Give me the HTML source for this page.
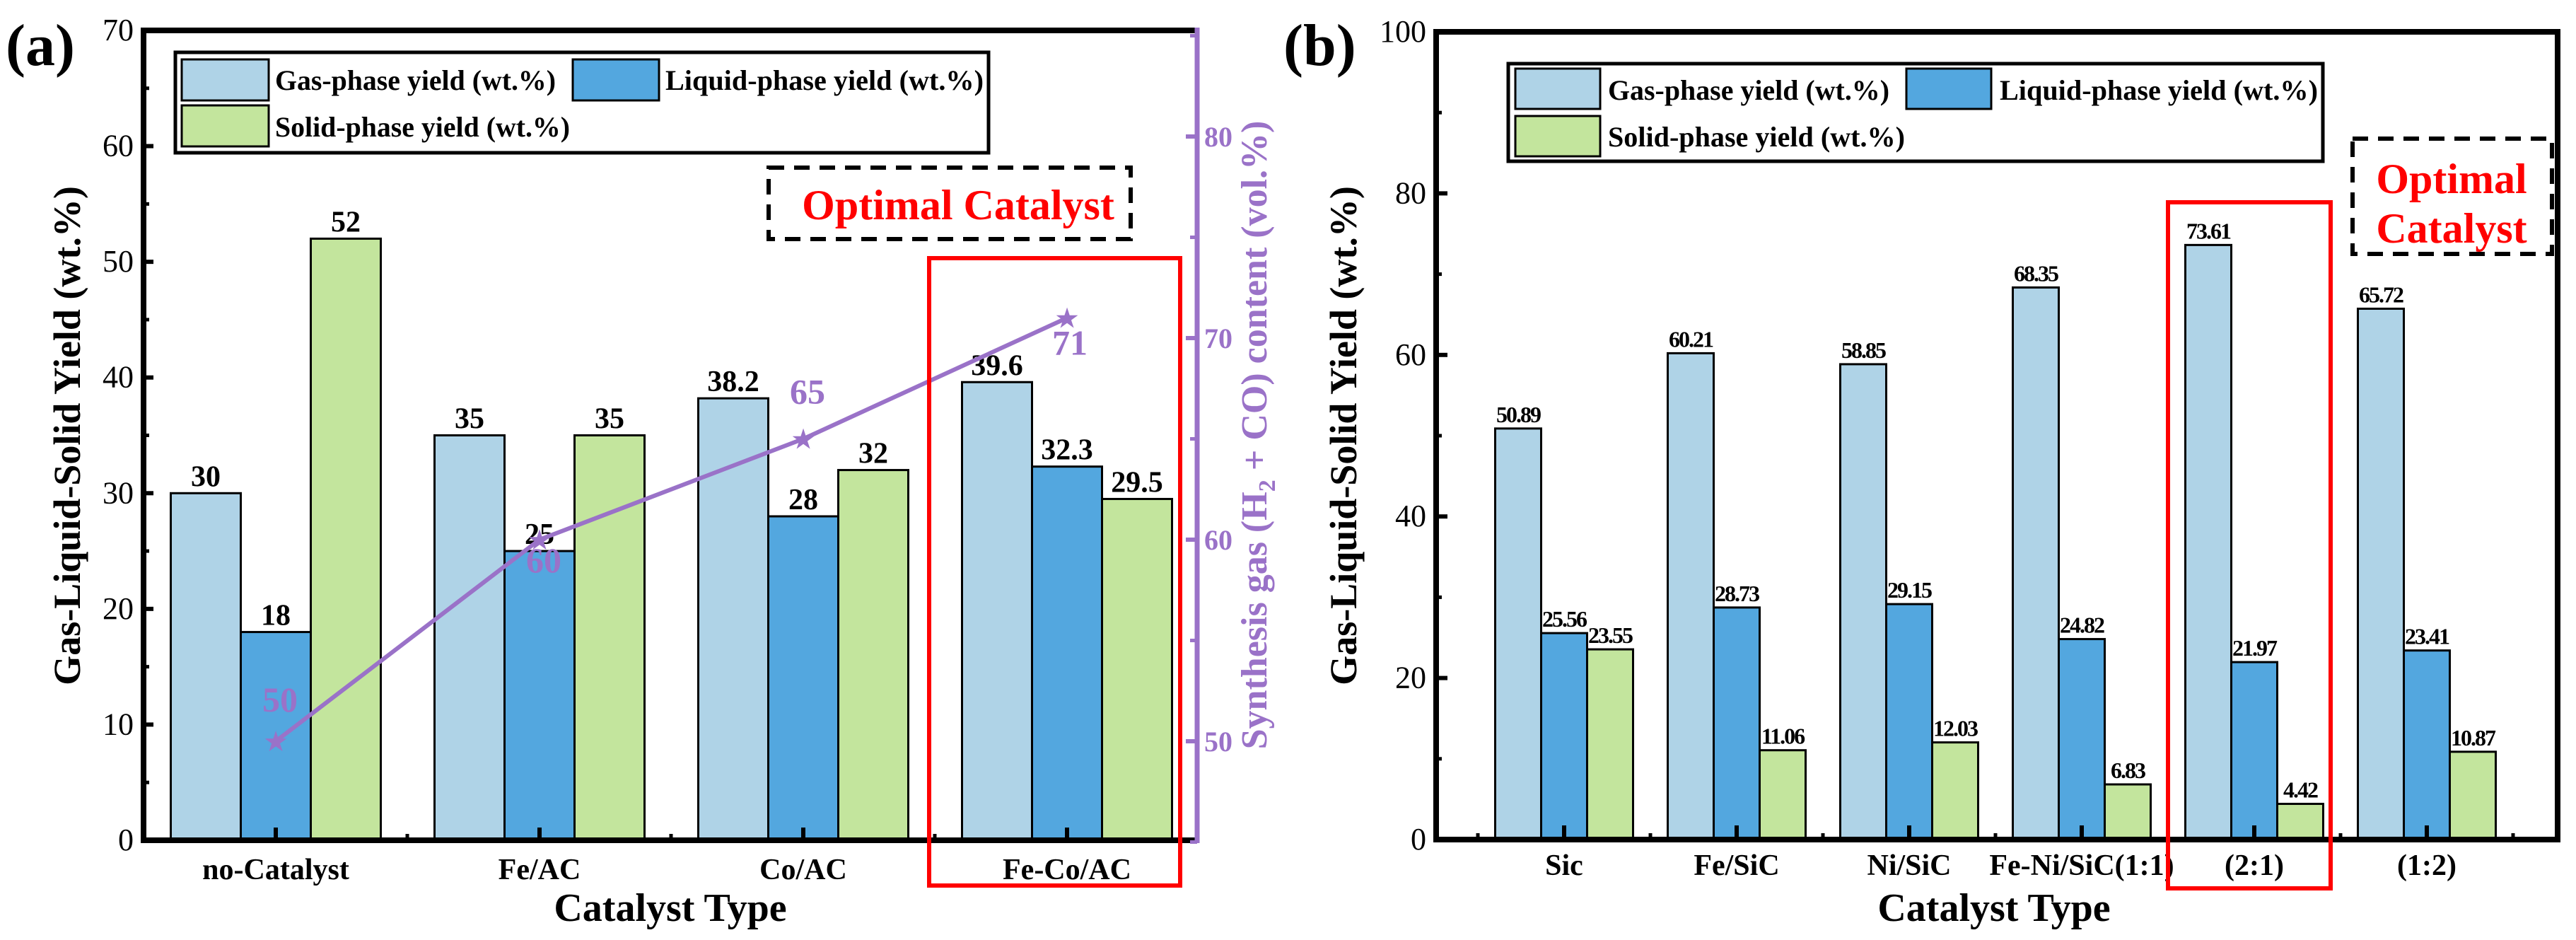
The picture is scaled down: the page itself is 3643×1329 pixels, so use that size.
<!DOCTYPE html>
<html><head><meta charset="utf-8"><style>
html,body{margin:0;padding:0;background:#fff;}
svg{display:block;}
svg text{font-family:"Liberation Serif","DejaVu Serif",serif;}
</style></head><body>
<svg id="chart" xmlns="http://www.w3.org/2000/svg" width="3643" height="1329" viewBox="0 0 3643 1329" font-family="Liberation Serif, DejaVu Serif, serif">
<rect width="3643" height="1329" fill="#fff"/>
<g id="pa"></g>
<g id="pb"></g>
</svg>
<script>
// Panel (a) data
const catsA = ["no-Catalyst","Fe/AC","Co/AC","Fe-Co/AC"];
const gasA = [30,35,38.2,39.6];
const liqA = [18,25,28,32.3];
const solA = [52,35,32,29.5];
const gasLabelsA = ["30","35","38.2","39.6"];
const liqLabelsA = ["18","25","28","32.3"];
const solLabelsA = ["52","35","32","29.5"];
const synA = [50,60,65,71];
const yTicksA = [0,10,20,30,40,50,60,70];
const y2TicksA = [50,60,70,80];
// Panel (b) data
const catsB = ["Sic","Fe/SiC","Ni/SiC","Fe-Ni/SiC(1:1)","(2:1)","(1:2)"];
const gasB = [50.89,60.21,58.85,68.35,73.61,65.72];
const liqB = [25.56,28.73,29.15,24.82,21.97,23.41];
const solB = [23.55,11.06,12.03,6.83,4.42,10.87];
const yTicksB = [0,20,40,60,80,100];

const NS="http://www.w3.org/2000/svg";
const FF='"Liberation Serif","DejaVu Serif",serif';
const C_GAS="#afd3e7", C_LIQ="#53a7df", C_SOL="#c3e59d", PUR="#9a72c8";
function mk(parent,tag,attrs,text){const e=document.createElementNS(NS,tag);for(const k in attrs)e.setAttribute(k,attrs[k]);if(tag==='text'){e.style.fontFamily=FF;}if(text!==undefined)e.textContent=text;parent.appendChild(e);return e;}

// ---------- Panel A ----------
(function(){
const g=document.getElementById('pa');
const L=203,R=1693,T=43,B=1188;
const ya=v=>B-(v/70)*(B-T);
const y2=v=>1048-(v-50)*28.5;
const cx=i=>390+i*373;
const bw=99;
const series=[[gasA,C_GAS,gasLabelsA,-1],[liqA,C_LIQ,liqLabelsA,0],[solA,C_SOL,solLabelsA,1]];
series.forEach((s,si)=>{
 s[0].forEach((v,i)=>{
  const x=cx(i)+s[3]*bw-bw/2;
  const r=mk(g,'rect',{x:x,y:ya(v),width:bw,height:B-ya(v),fill:s[1],stroke:'#000','stroke-width':3});
  
  
  const t=mk(g,'text',{x:x+bw/2,y:ya(v)-10,'font-size':42,'font-weight':'bold','text-anchor':'middle'},s[2][i]);
  
  
 });
});
mk(g,'line',{x1:L,y1:T,x2:R,y2:T,stroke:'#000','stroke-width':8});
mk(g,'line',{x1:L,y1:T-4,x2:L,y2:B+4,stroke:'#000','stroke-width':8});
mk(g,'line',{x1:L-4,y1:B,x2:R,y2:B,stroke:'#000','stroke-width':8});
mk(g,'line',{x1:R,y1:T-4,x2:R,y2:B+4,stroke:PUR,'stroke-width':7});
yTicksA.forEach(v=>{
 mk(g,'line',{x1:L,y1:ya(v),x2:L+14,y2:ya(v),stroke:'#000','stroke-width':6});
 if(v<70)mk(g,'line',{x1:L,y1:ya(v+5),x2:L+8,y2:ya(v+5),stroke:'#000','stroke-width':5});
 const t=mk(g,'text',{x:L-14,y:ya(v)+14,'font-size':44,'text-anchor':'end'},String(v));
 
 
});
y2TicksA.forEach(v=>{
 mk(g,'line',{x1:R,y1:y2(v),x2:R-16,y2:y2(v),stroke:PUR,'stroke-width':6});
 mk(g,'line',{x1:R,y1:y2(v+5),x2:R-10,y2:y2(v+5),stroke:PUR,'stroke-width':5});
 const t=mk(g,'text',{x:R+10,y:y2(v)+14,'font-size':40,fill:PUR,'font-weight':'bold'},String(v));
 
 
});
mk(g,'line',{x1:R,y1:y2(45),x2:R-10,y2:y2(45),stroke:PUR,'stroke-width':5});
catsA.forEach((c,i)=>{
 mk(g,'line',{x1:cx(i),y1:B,x2:cx(i),y2:B-18,stroke:'#000','stroke-width':6});
 if(i<3)mk(g,'line',{x1:cx(i)+186,y1:B,x2:cx(i)+186,y2:B-9,stroke:'#000','stroke-width':5});
 const t=mk(g,'text',{x:cx(i),y:1243,'font-size':42,'font-weight':'bold','text-anchor':'middle'},c);
 
 
});
const pts=synA.map((v,i)=>cx(i)+','+y2(v)).join(' ');
const pl=mk(g,'polyline',{points:pts,fill:'none',stroke:PUR,'stroke-width':6});


const offs=[[6,-42],[6,46],[6,-50],[4,52]];
synA.forEach((v,i)=>{
 const s=mk(g,'text',{x:cx(i),y:y2(v)+14,'font-size':40,fill:PUR,'text-anchor':'middle'},'★');
 s.style.fontFamily='"DejaVu Sans",sans-serif';
 
 
 const t=mk(g,'text',{x:cx(i)+offs[i][0],y:y2(v)+offs[i][1],'font-size':50,'font-weight':'bold',fill:PUR,'text-anchor':'middle'},String(v));
 
 
});
const lg=mk(g,'g',{});


mk(lg,'rect',{x:248,y:74,width:1150,height:142,fill:'#fff',stroke:'#000','stroke-width':5});
mk(lg,'rect',{x:257,y:84,width:123,height:58,fill:C_GAS,stroke:'#000','stroke-width':3});
mk(lg,'rect',{x:257,y:149,width:123,height:58,fill:C_SOL,stroke:'#000','stroke-width':3});
mk(lg,'rect',{x:810,y:84,width:122,height:58,fill:C_LIQ,stroke:'#000','stroke-width':3});
mk(lg,'text',{x:389,y:127,'font-size':40,'font-weight':'bold',textLength:397,lengthAdjust:'spacingAndGlyphs'},'Gas-phase yield (wt.%)');
mk(lg,'text',{x:941,y:127,'font-size':40,'font-weight':'bold',textLength:450,lengthAdjust:'spacingAndGlyphs'},'Liquid-phase yield (wt.%)');
mk(lg,'text',{x:389,y:193,'font-size':40,'font-weight':'bold',textLength:417,lengthAdjust:'spacingAndGlyphs'},'Solid-phase yield (wt.%)');
mk(g,'rect',{x:1087,y:237,width:512,height:101,fill:'none',stroke:'#000','stroke-width':6,'stroke-dasharray':'22 14'});
const oc=mk(g,'text',{x:1355,y:310,'font-size':60,'font-weight':'bold',fill:'#ff0000','text-anchor':'middle'},'Optimal Catalyst');


const rb=mk(g,'rect',{x:1314,y:365,width:355,height:887,fill:'none',stroke:'#ff0000','stroke-width':6});


const xt=mk(g,'text',{x:948,y:1302,'font-size':56,'font-weight':'bold','text-anchor':'middle'},'Catalyst Type');


const yt=mk(g,'text',{transform:'translate(113,616) rotate(-90)','font-size':54,'font-weight':'bold','text-anchor':'middle'},'Gas-Liquid-Solid Yield (wt.%)');


const y2t=mk(g,'text',{transform:'translate(1791,615) rotate(-90)','font-size':52,'font-weight':'bold',fill:PUR,'text-anchor':'middle'});


mk(y2t,'tspan',{},'Synthesis gas (H');
mk(y2t,'tspan',{'font-size':34,dy:12},'2');
mk(y2t,'tspan',{dy:-12},' + CO) content (vol.%)');
const pl2=mk(g,'text',{x:8,y:92,'font-size':84,'font-weight':'bold'},'(a)');


})();

// ---------- Panel B ----------
(function(){
const g=document.getElementById('pb');
const L=2031,R=3617,T=45,B=1187;
const yb=v=>B-(v/100)*(B-T);
const cx=i=>2212+i*244;
const bw=65;
const series=[[gasB,C_GAS,-1],[liqB,C_LIQ,0],[solB,C_SOL,1]];
series.forEach((s,si)=>{
 s[0].forEach((v,i)=>{
  const x=cx(i)+s[2]*bw-bw/2;
  const r=mk(g,'rect',{x:x,y:yb(v),width:bw,height:B-yb(v),fill:s[1],stroke:'#000','stroke-width':3});
  
  
  const t=mk(g,'text',{x:x+bw/2,y:yb(v)-9,'font-size':32,'font-weight':'bold','text-anchor':'middle','letter-spacing':-2},v.toFixed(2));
  
  
 });
});
mk(g,'line',{x1:L,y1:T,x2:R,y2:T,stroke:'#000','stroke-width':8});
mk(g,'line',{x1:L,y1:T-4,x2:L,y2:B+4,stroke:'#000','stroke-width':8});
mk(g,'line',{x1:L-4,y1:B,x2:R+4,y2:B,stroke:'#000','stroke-width':8});
mk(g,'line',{x1:R,y1:T-4,x2:R,y2:B+4,stroke:'#000','stroke-width':8});
yTicksB.forEach(v=>{
 mk(g,'line',{x1:L,y1:yb(v),x2:L+16,y2:yb(v),stroke:'#000','stroke-width':6});
 if(v<100)mk(g,'line',{x1:L,y1:yb(v+10),x2:L+8,y2:yb(v+10),stroke:'#000','stroke-width':5});
 const t=mk(g,'text',{x:L-14,y:yb(v)+14,'font-size':44,'text-anchor':'end'},String(v));
 
 
});
catsB.forEach((c,i)=>{
 mk(g,'line',{x1:cx(i),y1:B,x2:cx(i),y2:B-20,stroke:'#000','stroke-width':6});
 mk(g,'line',{x1:cx(i)-122,y1:B,x2:cx(i)-122,y2:B-9,stroke:'#000','stroke-width':5});
 const t=mk(g,'text',{x:cx(i),y:1237,'font-size':42,'font-weight':'bold','text-anchor':'middle'},c);
 
 
});
mk(g,'line',{x1:cx(5)+122,y1:B,x2:cx(5)+122,y2:B-9,stroke:'#000','stroke-width':5});
const lg=mk(g,'g',{});


mk(lg,'rect',{x:2133,y:90,width:1152,height:138,fill:'#fff',stroke:'#000','stroke-width':5});
mk(lg,'rect',{x:2143,y:97,width:120,height:57,fill:C_GAS,stroke:'#000','stroke-width':3});
mk(lg,'rect',{x:2143,y:164,width:120,height:57,fill:C_SOL,stroke:'#000','stroke-width':3});
mk(lg,'rect',{x:2696,y:97,width:120,height:57,fill:C_LIQ,stroke:'#000','stroke-width':3});
mk(lg,'text',{x:2274,y:141,'font-size':40,'font-weight':'bold',textLength:398,lengthAdjust:'spacingAndGlyphs'},'Gas-phase yield (wt.%)');
mk(lg,'text',{x:2828,y:141,'font-size':40,'font-weight':'bold',textLength:450,lengthAdjust:'spacingAndGlyphs'},'Liquid-phase yield (wt.%)');
mk(lg,'text',{x:2274,y:207,'font-size':40,'font-weight':'bold',textLength:420,lengthAdjust:'spacingAndGlyphs'},'Solid-phase yield (wt.%)');
mk(g,'rect',{x:3327,y:196,width:282,height:163,fill:'none',stroke:'#000','stroke-width':6,'stroke-dasharray':'22 14'});
const o1=mk(g,'text',{x:3467,y:273,'font-size':60,'font-weight':'bold',fill:'#ff0000','text-anchor':'middle'},'Optimal');


const o2=mk(g,'text',{x:3467,y:343,'font-size':60,'font-weight':'bold',fill:'#ff0000','text-anchor':'middle'},'Catalyst');


const rb=mk(g,'rect',{x:3066,y:286,width:230,height:970,fill:'none',stroke:'#ff0000','stroke-width':6});


const xt=mk(g,'text',{x:2820,y:1302,'font-size':56,'font-weight':'bold','text-anchor':'middle'},'Catalyst Type');


const yt=mk(g,'text',{transform:'translate(1918,616) rotate(-90)','font-size':54,'font-weight':'bold','text-anchor':'middle'},'Gas-Liquid-Solid Yield (wt.%)');


const pl=mk(g,'text',{x:1815,y:92,'font-size':84,'font-weight':'bold'},'(b)');


})();
</script>
</body></html>
